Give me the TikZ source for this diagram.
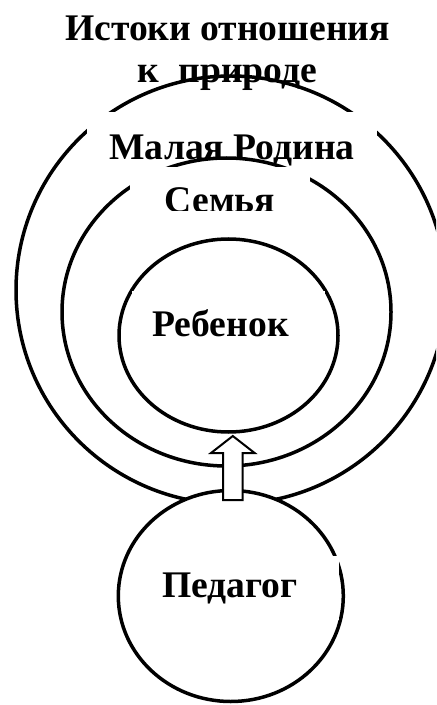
\documentclass[tikz,border=0pt]{standalone}
\usepackage{fontspec}
\setmainfont{Liberation Serif}
\usepackage{tikz}
\usetikzlibrary{shapes.geometric,calc}

\begin{document}
\begin{tikzpicture}[x=0.5pt,y=-0.5pt,
  ring/.style={ellipse,draw,line width=1.75pt,inner sep=0pt,outer sep=0pt},
  lbl/.style={font=\fontsize{18.8}{21.2}\selectfont\bfseries,inner sep=0pt,anchor=base},
  boxbg/.style={fill=white},
  blockarrow/.style={draw,fill=white,line width=1pt,line join=miter}]
\useasboundingbox (0,0) rectangle (436,705);
\clip (0,0) rectangle (436,705);
% outer circle and the title above it
\node[ring,minimum width=215pt,minimum height=214pt] (malaya) at (231,290) {};
\node[lbl,anchor=north,align=center] (title) at (227.5,15) {Истоки отношения\\к~ природе};
\fill[boxbg] (87,112) rectangle (377,192);
\node[lbl] (malayaT) at (232,159.5) {Малая Родина};
% family
\node[ring,minimum width=164.5pt,minimum height=154pt] (semya) at (226.5,312) {};
\begin{scope}
  \clip (130,167) rectangle (310,211);
  \fill[boxbg] (130,167) rectangle (310,211);
  \node[lbl] (semyaT) at (220,213) {Семья};
\end{scope}
% child
\node[ring,minimum width=109.5pt,minimum height=96.5pt] (rebenok) at (228.5,335.5) {};
\fill[boxbg] (131.5,291) rectangle (324.5,362);
\node[lbl] (rebenokT) at (220.5,336.5) {Ребенок};
% teacher
\node[ring,fill=white,minimum width=112.5pt,minimum height=105.5pt] (pedagog) at (230.8,596) {};
\fill[boxbg] (150,556) rectangle (338.5,620);
\node[lbl] (pedagogT) at (230,597) {Педагог};
\draw[blockarrow] ($(pedagog.north)+(-7.8,9.5)$) -- ++(0,-47) -- ++(-12,0)
   -- ++(21.8,-17) -- ++(21.8,17) -- ++(-12,0) -- ++(0,47) -- cycle;
\end{tikzpicture}
\end{document}
